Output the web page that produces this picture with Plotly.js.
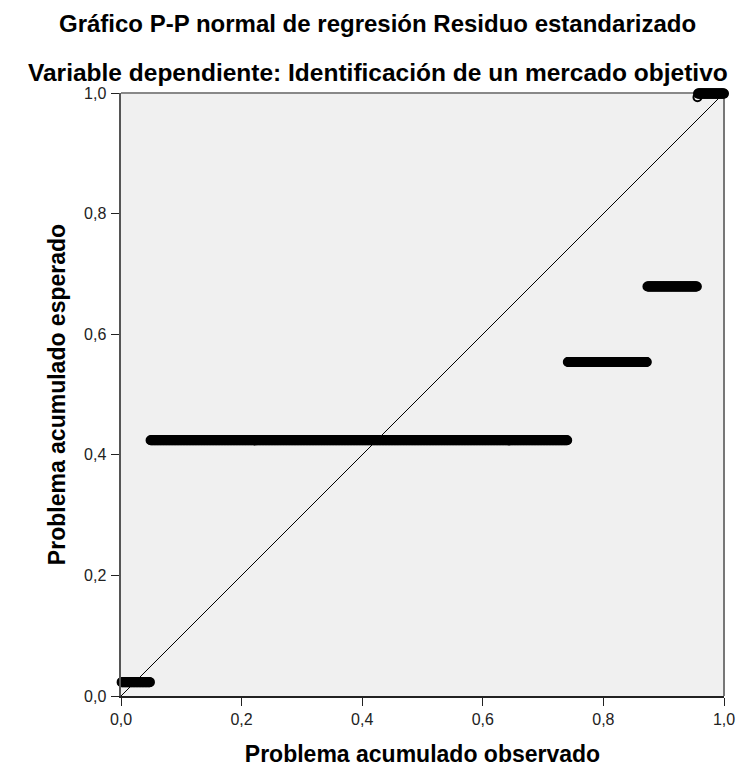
<!DOCTYPE html>
<html>
<head>
<meta charset="utf-8">
<script src="https://cdn.plot.ly/plotly-3.0.1.min.js"></script>
<style>html,body{margin:0;padding:0;background:#fff;}#chart{width:747px;height:767px;}</style>
</head>
<body>
<div id="chart"></div>
<script>
// Expected cumulative probability for each tied group of residuals
var groupExpected = [0.023, 0.424, 0.554, 0.679, 0.993, 0.999];
// Number of cases in each group (in rank order)
var groupCount = [48, 692, 132, 83, 1, 44];
var tickVals = [0, 0.2, 0.4, 0.6, 0.8, 1.0];
var tickText = ["0,0", "0,2", "0,4", "0,6", "0,8", "1,0"];
var refLine = [0, 1];

var titleMain = "Gráfico P-P normal de regresión Residuo estandarizado";
var titleSub = "Variable dependiente: Identificación de un mercado objetivo";
var xTitle = "Problema acumulado observado";
var yTitle = "Problema acumulado esperado";

// Observed cumulative proportion = rank / n
var n = groupCount.reduce(function(a, b) { return a + b; }, 0);
var obs = [], exp = [];
var rank = 0;
for (var g = 0; g < groupCount.length; g++) {
  for (var k = 0; k < groupCount[g]; k++) {
    rank++;
    obs.push(rank / n);
    exp.push(groupExpected[g]);
  }
}

var font = "Liberation Sans, Arial, sans-serif";
var data = [
  {x: refLine, y: refLine, mode: "lines", type: "scatter",
   line: {color: "#000", width: 1}, hoverinfo: "skip", showlegend: false, cliponaxis: false},
  {x: obs, y: exp, mode: "markers", type: "scatter",
   marker: {symbol: "circle-open", size: 8, color: "#000", line: {width: 2, color: "#000"}},
   showlegend: false, cliponaxis: false}
];

var axisCommon = {
  range: [0, 1], tickvals: tickVals, ticktext: tickText,
  ticks: "outside", ticklen: 8, tickwidth: 1, tickcolor: "#222",
  showgrid: false, zeroline: false, showline: true,
  mirror: false, tickfont: {family: font, size: 16, color: "#222"}
};

var layout = {
  width: 747, height: 767,
  margin: {l: 121, r: 23, t: 93, b: 71},
  paper_bgcolor: "#fff", plot_bgcolor: "#f0f0f0",
  xaxis: Object.assign({}, axisCommon, {
    linecolor: "#222", linewidth: 1.5,
    title: {text: xTitle, font: {family: font, size: 23, color: "#000", weight: "bold"}, standoff: 24}
  }),
  yaxis: Object.assign({}, axisCommon, {
    linecolor: "#555", linewidth: 2.5, ticklabelstandoff: 1,
    title: {text: yTitle, font: {family: font, size: 23, color: "#000", weight: "bold"}, standoff: 12}
  }),
  shapes: [
    {type: "line", xref: "paper", yref: "paper", x0: 0, x1: 1, y0: 1, y1: 1,
     line: {color: "#888", width: 2}, layer: "below"},
    {type: "line", xref: "paper", yref: "paper", x0: 1, x1: 1, y0: 0, y1: 1,
     line: {color: "#777", width: 2}, layer: "below"}
  ],
  annotations: [
    {text: titleMain, xref: "paper", yref: "paper", x: 0.426, y: 1, yshift: 70, showarrow: false,
     xanchor: "center", yanchor: "middle", font: {family: font, size: 24, color: "#000", weight: "bold"}},
    {text: titleSub, xref: "paper", yref: "paper", x: 0.426, y: 1, yshift: 21, showarrow: false,
     xanchor: "center", yanchor: "middle", font: {family: font, size: 24.5, color: "#000", weight: "bold"}}
  ]
};

Plotly.newPlot("chart", data, layout, {displayModeBar: false, staticPlot: true});
</script>
</body>
</html>
